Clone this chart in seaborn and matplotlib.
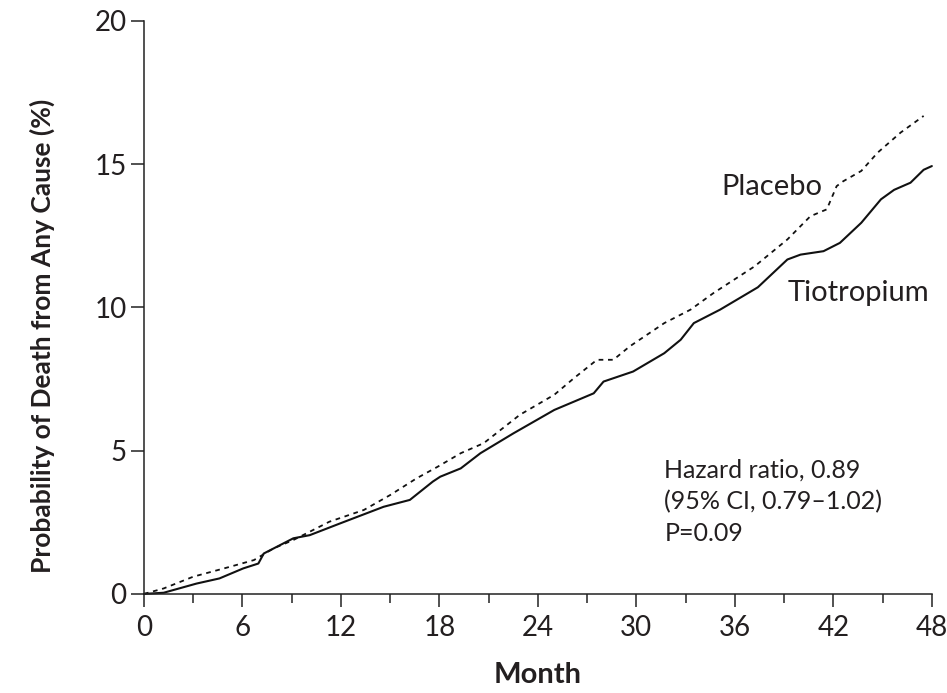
import matplotlib
matplotlib.use("Agg")
import matplotlib.pyplot as plt
import seaborn as sns
import pandas as pd
from matplotlib.ticker import MultipleLocator

# ---- data ----
placebo_month = [0, 1.2, 3.0, 5.2, 6.7, 7.9, 9.1, 10.1, 11.3, 13.4, 15.0, 16.6, 17.9,
                 19.3, 20.7, 22.9, 25.0, 26.2, 27.6, 28.6, 29.6, 31.7, 33.3, 34.7,
                 37.2, 39.2, 40.6, 41.6, 42.2, 42.6, 43.7, 44.7, 46.1, 47.5]
placebo_prob = [0, 0.19, 0.6, 0.94, 1.18, 1.59, 1.88, 2.17, 2.52, 2.93, 3.45, 4.03, 4.44,
                4.91, 5.26, 6.25, 6.95, 7.53, 8.17, 8.17, 8.64, 9.45, 9.92, 10.5,
                11.43, 12.37, 13.18, 13.42, 14.23, 14.4, 14.76, 15.4, 16.1, 16.68]

tio_month = [0, 1.2, 3.2, 4.6, 6.05, 6.97, 7.3, 9.1, 10.1, 11.95, 14.6, 16.2, 17.6,
             18.05, 19.3, 20.5, 22.5, 25.0, 27.4, 28.0, 29.8, 31.7, 32.7, 33.5, 35.1,
             37.4, 39.2, 40.0, 41.4, 42.4, 43.7, 44.9, 45.7, 46.7, 47.5, 48.0]
tio_prob = [0, 0.04, 0.36, 0.54, 0.89, 1.06, 1.41, 1.94, 2.05, 2.46, 3.04, 3.28, 3.92,
            4.09, 4.38, 4.91, 5.6, 6.42, 7.0, 7.41, 7.76, 8.4, 8.87, 9.45, 9.92,
            10.7, 11.67, 11.84, 11.96, 12.25, 12.95, 13.77, 14.1, 14.35, 14.8, 14.93]

x_ticks = [0, 6, 12, 18, 24, 30, 36, 42, 48]
y_ticks = [0, 5, 10, 15, 20]
annotation_lines = ["Hazard ratio, 0.89", "(95% CI, 0.79\u20131.02)", "P=0.09"]

sns.set_theme(style="white")
plt.rcParams['font.family'] = ['Lato', 'DejaVu Sans']
TXT = '#231f20'

fig = plt.figure(figsize=(9.47, 6.93), dpi=100)
ax = fig.add_axes([0.152, 0.143, 0.832, 0.827])

df_p = pd.DataFrame({"Month": placebo_month, "Prob": placebo_prob})
df_t = pd.DataFrame({"Month": tio_month, "Prob": tio_prob})

sns.lineplot(data=df_p, x="Month", y="Prob", ax=ax, color='#111111', linewidth=1.3,
             estimator=None, sort=False)
ax.lines[-1].set_dashes((2.6, 2.6))
sns.lineplot(data=df_t, x="Month", y="Prob", ax=ax, color='#111111', linewidth=1.5,
             estimator=None, sort=False)
for ln in ax.lines:
    ln.set_clip_on(False)

ax.set_xlim(0, 48)
ax.set_ylim(0, 20)
ax.set_xticks(x_ticks)
ax.set_yticks(y_ticks)
ax.xaxis.set_minor_locator(MultipleLocator(3))

for side in ['top', 'right']:
    ax.spines[side].set_visible(False)
for side in ['left', 'bottom']:
    ax.spines[side].set_color('#222222')
    ax.spines[side].set_linewidth(1.1)

ax.tick_params(axis='both', which='major', direction='out', length=9.4, width=1.1,
               color='#222222', labelsize=20, labelcolor=TXT, pad=3,
               bottom=True, left=True)
ax.tick_params(axis='x', which='major', pad=6)
ax.tick_params(axis='x', which='minor', direction='out', length=6.5, width=1.1,
               color='#222222', bottom=True)

ax.set_xlabel("Month", fontsize=21, fontweight='bold', color=TXT)
ax.set_ylabel("Probability of Death from Any Cause (%)", fontsize=19,
              fontweight='bold', color=TXT)
ax.xaxis.set_label_coords(0.5, -0.118)
ax.yaxis.set_label_coords(-0.113, 0.45)

ax.text(35.2, 14.2, "Placebo", fontsize=21, color=TXT, va='center', ha='left')
ax.text(39.2, 10.5, "Tiotropium", fontsize=21, color=TXT, va='center', ha='left')
for i, line in enumerate(annotation_lines):
    ax.text(31.7, 4.32 - i * 1.1, line, fontsize=18, color=TXT, va='center', ha='left')

fig.savefig("out.png", dpi=100)
